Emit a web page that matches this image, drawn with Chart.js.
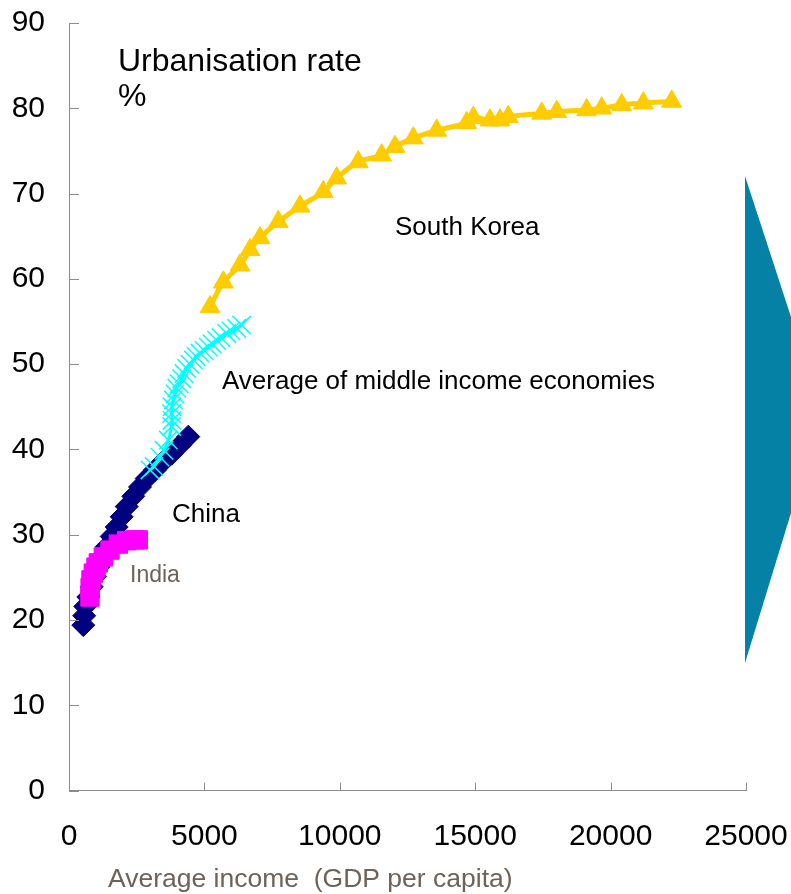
<!DOCTYPE html>
<html><head><meta charset="utf-8">
<script src="https://cdn.jsdelivr.net/npm/chart.js@4.4.0/dist/chart.umd.min.js"></script>
<style>html,body{margin:0;padding:0;background:#fff;overflow:hidden}</style>
</head><body>
<canvas id="c" width="791" height="894"></canvas>
<script>
// ---- data ----
const xTickValues = [0, 5000, 10000, 15000, 20000, 25000];
const yTickValues = [0, 10, 20, 30, 40, 50, 60, 70, 80, 90];

const koreaIncome = [5207,5698,6315,6684,7053,7729,8530,9391,9886,10683,11547,12038,12714,13578,14686,14930,15547,15916,16222,17456,18010,19117,19671,20410,21207,22256];
const koreaUrban  = [56.7,59.6,61.6,63.4,64.8,66.7,68.5,70.2,71.8,73.7,74.5,75.5,76.5,77.4,78.3,78.9,78.6,78.6,79.0,79.4,79.6,79.8,80.0,80.4,80.6,80.8];

const middleIncome = [2991,3139,3360,3508,3667,3792,3804,3792,3804,3852,3914,3977,4062,4162,4247,4346,4468,4590,4690,4838,4985,5144,5281,5454,5613,5824,5982,6193,6377];
const middleUrban  = [37.6,38.0,39.1,39.9,41.1,42.7,43.4,44.2,45.0,45.8,46.5,47.2,47.7,48.3,48.9,49.5,50.0,50.5,50.9,51.3,51.6,52.0,52.4,52.8,53.1,53.6,53.9,54.2,54.6];

const chinaIncome = [528,560,600,713,838,960,1082,1208,1392,1577,1761,1946,2131,2374,2622,2869,3176,3482,3792,4099,4405];
const chinaUrban  = [19.4,20.5,21.6,22.7,23.9,25.1,26.2,27.4,28.6,29.8,30.9,32.1,33.3,34.5,35.6,36.6,37.6,38.6,39.5,40.5,41.5];

const indiaIncome = [775,780,812,897,997,1082,1267,1514,1821,2131,2437,2559];
const indiaUrban  = [22.7,23.8,24.7,25.5,26.2,26.7,27.4,28.2,28.9,29.3,29.4,29.4];

// text labels placed in data coordinates [x, y]
const labelTexts = [
  {text:'Urbanisation rate', at:[1809, 85.4], size:32, color:'#000000'},
  {text:'%', at:[1809, 81.3], size:32, color:'#000000'},
  {text:'South Korea', at:[12038, 66.0], size:26, color:'#000000'},
  {text:'Average of middle income economies', at:[5650, 47.9], size:26, color:'#000000'},
  {text:'China', at:[3804, 32.3], size:26, color:'#000000'},
  {text:'India', at:[2253, 25.2], size:23, color:'#6E6259'}
];
const xAxisTitle = 'Average income  (GDP per capita)';

const FONT = '"Liberation Sans", Arial, Helvetica, sans-serif';
const toPts = (xs, ys) => xs.map((x, i) => ({x: x, y: ys[i]}));

const decorPlugin = {
  id: 'decor',
  beforeDraw(chart) {
    const ctx = chart.ctx;
    ctx.save();
    ctx.fillStyle = '#0481A5';
    ctx.beginPath();
    ctx.moveTo(745, 176);
    ctx.lineTo(791, 317);
    ctx.lineTo(791, 513);
    ctx.lineTo(745, 663);
    ctx.closePath();
    ctx.fill();
    ctx.restore();
  },
  afterDraw(chart) {
    const ctx = chart.ctx;
    const xs = chart.scales.x, ys = chart.scales.y;
    const ca = chart.chartArea;
    ctx.save();
    ctx.strokeStyle = '#8C8C8C';
    ctx.lineWidth = 1;
    ctx.beginPath();
    yTickValues.forEach(v => {
      const py = Math.round(ys.getPixelForValue(v)) + 0.5;
      ctx.moveTo(ca.left, py); ctx.lineTo(ca.left + 10, py);
    });
    xTickValues.forEach(v => {
      const px = Math.round(xs.getPixelForValue(v)) + 0.5;
      ctx.moveTo(px, ca.bottom); ctx.lineTo(px, ca.bottom - 8);
    });
    ctx.stroke();
    ctx.textBaseline = 'middle';
    ctx.textAlign = 'left';
    labelTexts.forEach(l => {
      ctx.font = l.size + 'px ' + FONT;
      ctx.fillStyle = l.color;
      ctx.fillText(l.text, xs.getPixelForValue(l.at[0]), ys.getPixelForValue(l.at[1]));
    });
    ctx.font = '26.5px ' + FONT;
    ctx.fillStyle = '#6E6259';
    ctx.fillText(xAxisTitle, ca.left + 39, ca.bottom + 89);
    ctx.restore();
  }
};

new Chart(document.getElementById('c'), {
  type: 'line',
  data: {
    datasets: [
      {
        label: 'South Korea', data: toPts(koreaIncome, koreaUrban),
        borderColor: '#FFCC00', backgroundColor: '#FFCC00', borderWidth: 5,
        pointStyle: 'triangle', pointRadius: 11.5, pointBorderWidth: 1,
        pointBackgroundColor: '#FFCC00', pointBorderColor: '#FFCC00', tension: 0.4
      },
      {
        label: 'Average of middle income economies', data: toPts(middleIncome, middleUrban),
        borderColor: '#00FFFF', backgroundColor: '#00FFFF', borderWidth: 3,
        pointStyle: 'crossRot', pointRadius: 13, pointBorderWidth: 1.5,
        pointBorderColor: '#00FFFF', tension: 0.4
      },
      {
        label: 'India', data: toPts(indiaIncome, indiaUrban),
        borderColor: '#FF00FF', backgroundColor: '#FF00FF', borderWidth: 3,
        pointStyle: 'rect', pointRadius: 13, pointBorderWidth: 1,
        pointBackgroundColor: '#FF00FF', pointBorderColor: '#FF00FF', tension: 0.3
      },
      {
        label: 'China', data: toPts(chinaIncome, chinaUrban),
        borderColor: '#000080', backgroundColor: '#000080', borderWidth: 3,
        pointStyle: 'rectRot', pointRadius: 11.5, pointBorderWidth: 1,
        pointBackgroundColor: '#000080', pointBorderColor: '#000080', tension: 0.3
      }
    ]
  },
  options: {
    responsive: false,
    animation: false,
    events: [],
    layout: { padding: { top: 23, right: 45, bottom: 0, left: 0 } },
    plugins: { legend: { display: false }, tooltip: { enabled: false } },
    scales: {
      x: {
        type: 'linear', min: 0, max: 25000,
        afterFit(s) { s.height = 103.4; s.paddingLeft = 0; s.paddingRight = 0; },
        afterBuildTicks(s) { s.ticks = xTickValues.map(v => ({value: v})); },
        grid: { display: false },
        border: { display: true, color: '#8C8C8C', width: 1 },
        ticks: { color: '#000000', padding: 20, font: { size: 30, family: FONT }, callback: v => String(v) }
      },
      y: {
        type: 'linear', min: 0, max: 90,
        afterFit(s) { s.width = 69; s.paddingTop = 0; s.paddingBottom = 0; },
        afterBuildTicks(s) { s.ticks = yTickValues.map(v => ({value: v})); },
        grid: { display: false },
        border: { display: true, color: '#8C8C8C', width: 1 },
        ticks: { color: '#000000', padding: 16, font: { size: 30, family: FONT }, callback: v => String(v) }
      }
    }
  },
  plugins: [decorPlugin]
});
</script>
</body></html>
